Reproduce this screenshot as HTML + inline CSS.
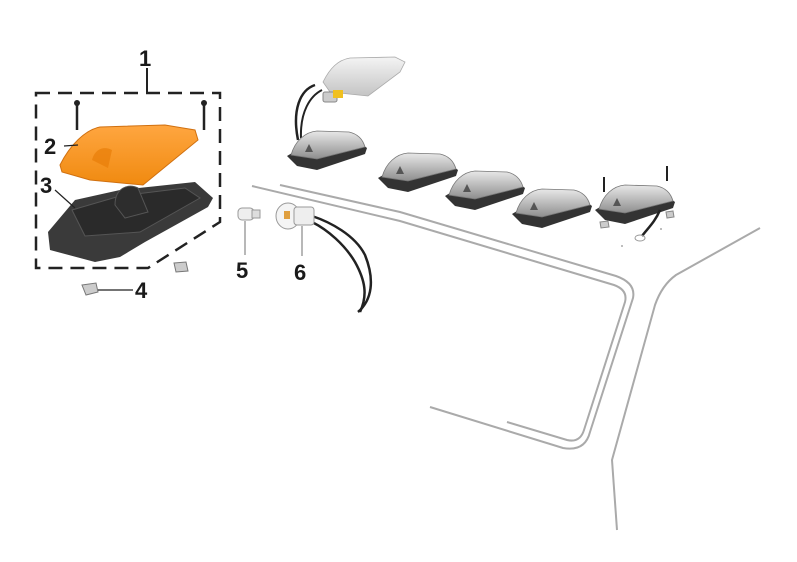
<!DOCTYPE html>
<html><head><meta charset="utf-8"><style>
html,body{margin:0;padding:0;background:#fff;}
svg{display:block;}
text{font-family:"Liberation Sans",Arial,sans-serif;font-weight:bold;font-size:22px;fill:#1a1a1a;}
</style></head><body>
<svg width="797" height="562" viewBox="0 0 797 562" xmlns="http://www.w3.org/2000/svg">
<defs>
<linearGradient id="lens" x1="0" y1="0" x2="0" y2="1"><stop offset="0" stop-color="#e8e8e8"/><stop offset="1" stop-color="#8e8e8e"/></linearGradient>
<linearGradient id="lens2" x1="0" y1="0" x2="0" y2="1"><stop offset="0" stop-color="#f4f4f4"/><stop offset="1" stop-color="#c4c4c4"/></linearGradient>
<linearGradient id="amber" x1="0" y1="0" x2="0" y2="1"><stop offset="0" stop-color="#ffa640"/><stop offset="1" stop-color="#f08a10"/></linearGradient>
<g id="lamp">
<path d="M0,28 L10,38 L30,42 L78,26 L80,20 L72,14 L10,22 Z" fill="#333"/>
<path d="M4,27 C8,13 18,4 30,3 L62,4 C71,6 76,12 78,19 L30,31 Z" fill="url(#lens)" stroke="#777" stroke-width="0.8"/>
<path d="M18,24 L22,16 L26,24 Z" fill="#555"/>
</g>
</defs>

<!-- roof lines -->
<g fill="none" stroke="#aaa" stroke-width="2">
<path d="M280,185 L400,212 L616,276 Q636,283 633,298 L590,432 Q585,452 563,448 L430,407"/>
<path d="M252,186 L400,221 L614,285 Q628,290 625,302 L584,430 Q580,443 567,440 L507,422"/>
<path d="M760,228 L676,275 Q662,285 655,305 L612,460 L617,530"/>
</g>

<!-- dashed box -->
<g fill="none" stroke="#222" stroke-width="2.5" stroke-dasharray="14,8">
<path d="M36,93 L220,93 L220,222 L148,268 L36,268 Z"/>
</g>
<line x1="147" y1="68" x2="147" y2="93" stroke="#222" stroke-width="2"/>
<text x="139" y="66">1</text>

<!-- screws -->
<g stroke="#222" stroke-width="2.5">
<line x1="77" y1="104" x2="77" y2="130"/><line x1="204" y1="104" x2="204" y2="130"/>
</g>
<circle cx="77" cy="103" r="3" fill="#222"/><circle cx="204" cy="103" r="3" fill="#222"/>

<!-- amber lens -->
<path d="M60,165 C70,145 85,130 100,127 L165,125 L195,130 L198,140 L143,185 L90,180 L62,172 Z" fill="url(#amber)" stroke="#d07010" stroke-width="1"/>
<path d="M92,160 C95,148 105,146 112,150 L108,168 Z" fill="#e87e08" opacity="0.7"/>
<text x="44" y="154">2</text>
<line x1="64" y1="146" x2="78" y2="145" stroke="#222" stroke-width="1.2"/>

<!-- base 3 -->
<path d="M48,232 L75,200 L120,190 L195,182 L213,198 L208,207 L145,242 L120,257 L95,262 L50,250 Z" fill="#3a3a3a"/>
<path d="M72,210 L120,196 L185,188 L200,198 L140,232 L85,236 Z" fill="#2a2a2a" stroke="#555" stroke-width="1"/>
<path d="M115,205 C115,188 128,183 138,188 L148,212 L125,218 Z" fill="#2d2d2d" stroke="#555" stroke-width="1"/>
<text x="40" y="193">3</text>
<line x1="55" y1="190" x2="75" y2="208" stroke="#222" stroke-width="1.2"/>

<!-- clips 4 -->
<path d="M82,285 L96,283 L98,292 L86,295 Z" fill="#ccc" stroke="#777"/>
<path d="M174,263 L186,262 L188,271 L176,272 Z" fill="#ccc" stroke="#777"/>
<line x1="98" y1="290" x2="133" y2="290" stroke="#222" stroke-width="1.2"/>
<text x="135" y="298">4</text>

<!-- bulb 5 -->
<rect x="238" y="208" width="16" height="12" rx="4" fill="#eee" stroke="#999"/>
<rect x="252" y="210" width="8" height="8" fill="#ddd" stroke="#999"/>
<line x1="245" y1="221" x2="245" y2="255" stroke="#888" stroke-width="1.2"/>
<text x="236" y="278">5</text>

<!-- socket 6 -->
<path d="M312,216 C330,222 355,235 365,255 C375,280 372,300 358,312" fill="none" stroke="#222" stroke-width="2.5"/>
<path d="M312,222 C328,230 345,245 355,262 C365,280 368,295 360,312" fill="none" stroke="#222" stroke-width="2.5"/>
<ellipse cx="288" cy="216" rx="12" ry="13" fill="#f4f4f4" stroke="#999"/>
<rect x="294" y="207" width="20" height="18" rx="3" fill="#eee" stroke="#999"/>
<rect x="284" y="211" width="6" height="8" fill="#e0a040"/>
<line x1="302" y1="226" x2="302" y2="256" stroke="#888" stroke-width="1.2"/>
<text x="294" y="280">6</text>

<!-- top exploded lens & bulb -->
<path d="M323,82 C330,68 338,60 350,58 L395,57 L405,62 L400,72 L368,96 L330,92 Z" fill="url(#lens2)" stroke="#aaa" stroke-width="0.8"/>
<rect x="323" y="92" width="14" height="10" rx="2" fill="#ccc" stroke="#888"/>
<rect x="333" y="90" width="10" height="8" fill="#f0c020"/>
<path d="M315,85 C300,90 292,110 298,140" fill="none" stroke="#222" stroke-width="2.5"/>
<path d="M322,90 C310,96 300,112 301,138" fill="none" stroke="#222" stroke-width="2"/>

<!-- lamps -->
<use href="#lamp" x="287" y="128"/>
<use href="#lamp" x="378" y="150"/>
<use href="#lamp" x="445" y="168"/>
<use href="#lamp" x="512" y="186"/>
<use href="#lamp" x="595" y="182"/>
<!-- right lamp details -->
<g stroke="#222" stroke-width="2"><line x1="604" y1="177" x2="604" y2="192"/><line x1="667" y1="166" x2="667" y2="181"/></g>
<path d="M660,210 C655,222 648,228 642,236" fill="none" stroke="#222" stroke-width="2.5"/>
<ellipse cx="640" cy="238" rx="5" ry="3" fill="none" stroke="#999"/>
<path d="M600,222 L608,221 L609,227 L601,228 Z" fill="#ccc" stroke="#888"/>
<path d="M666,212 L673,211 L674,217 L667,218 Z" fill="#ccc" stroke="#888"/>
<circle cx="622" cy="246" r="1" fill="#aaa"/><circle cx="661" cy="229" r="1" fill="#aaa"/>
</svg>
</body></html>
